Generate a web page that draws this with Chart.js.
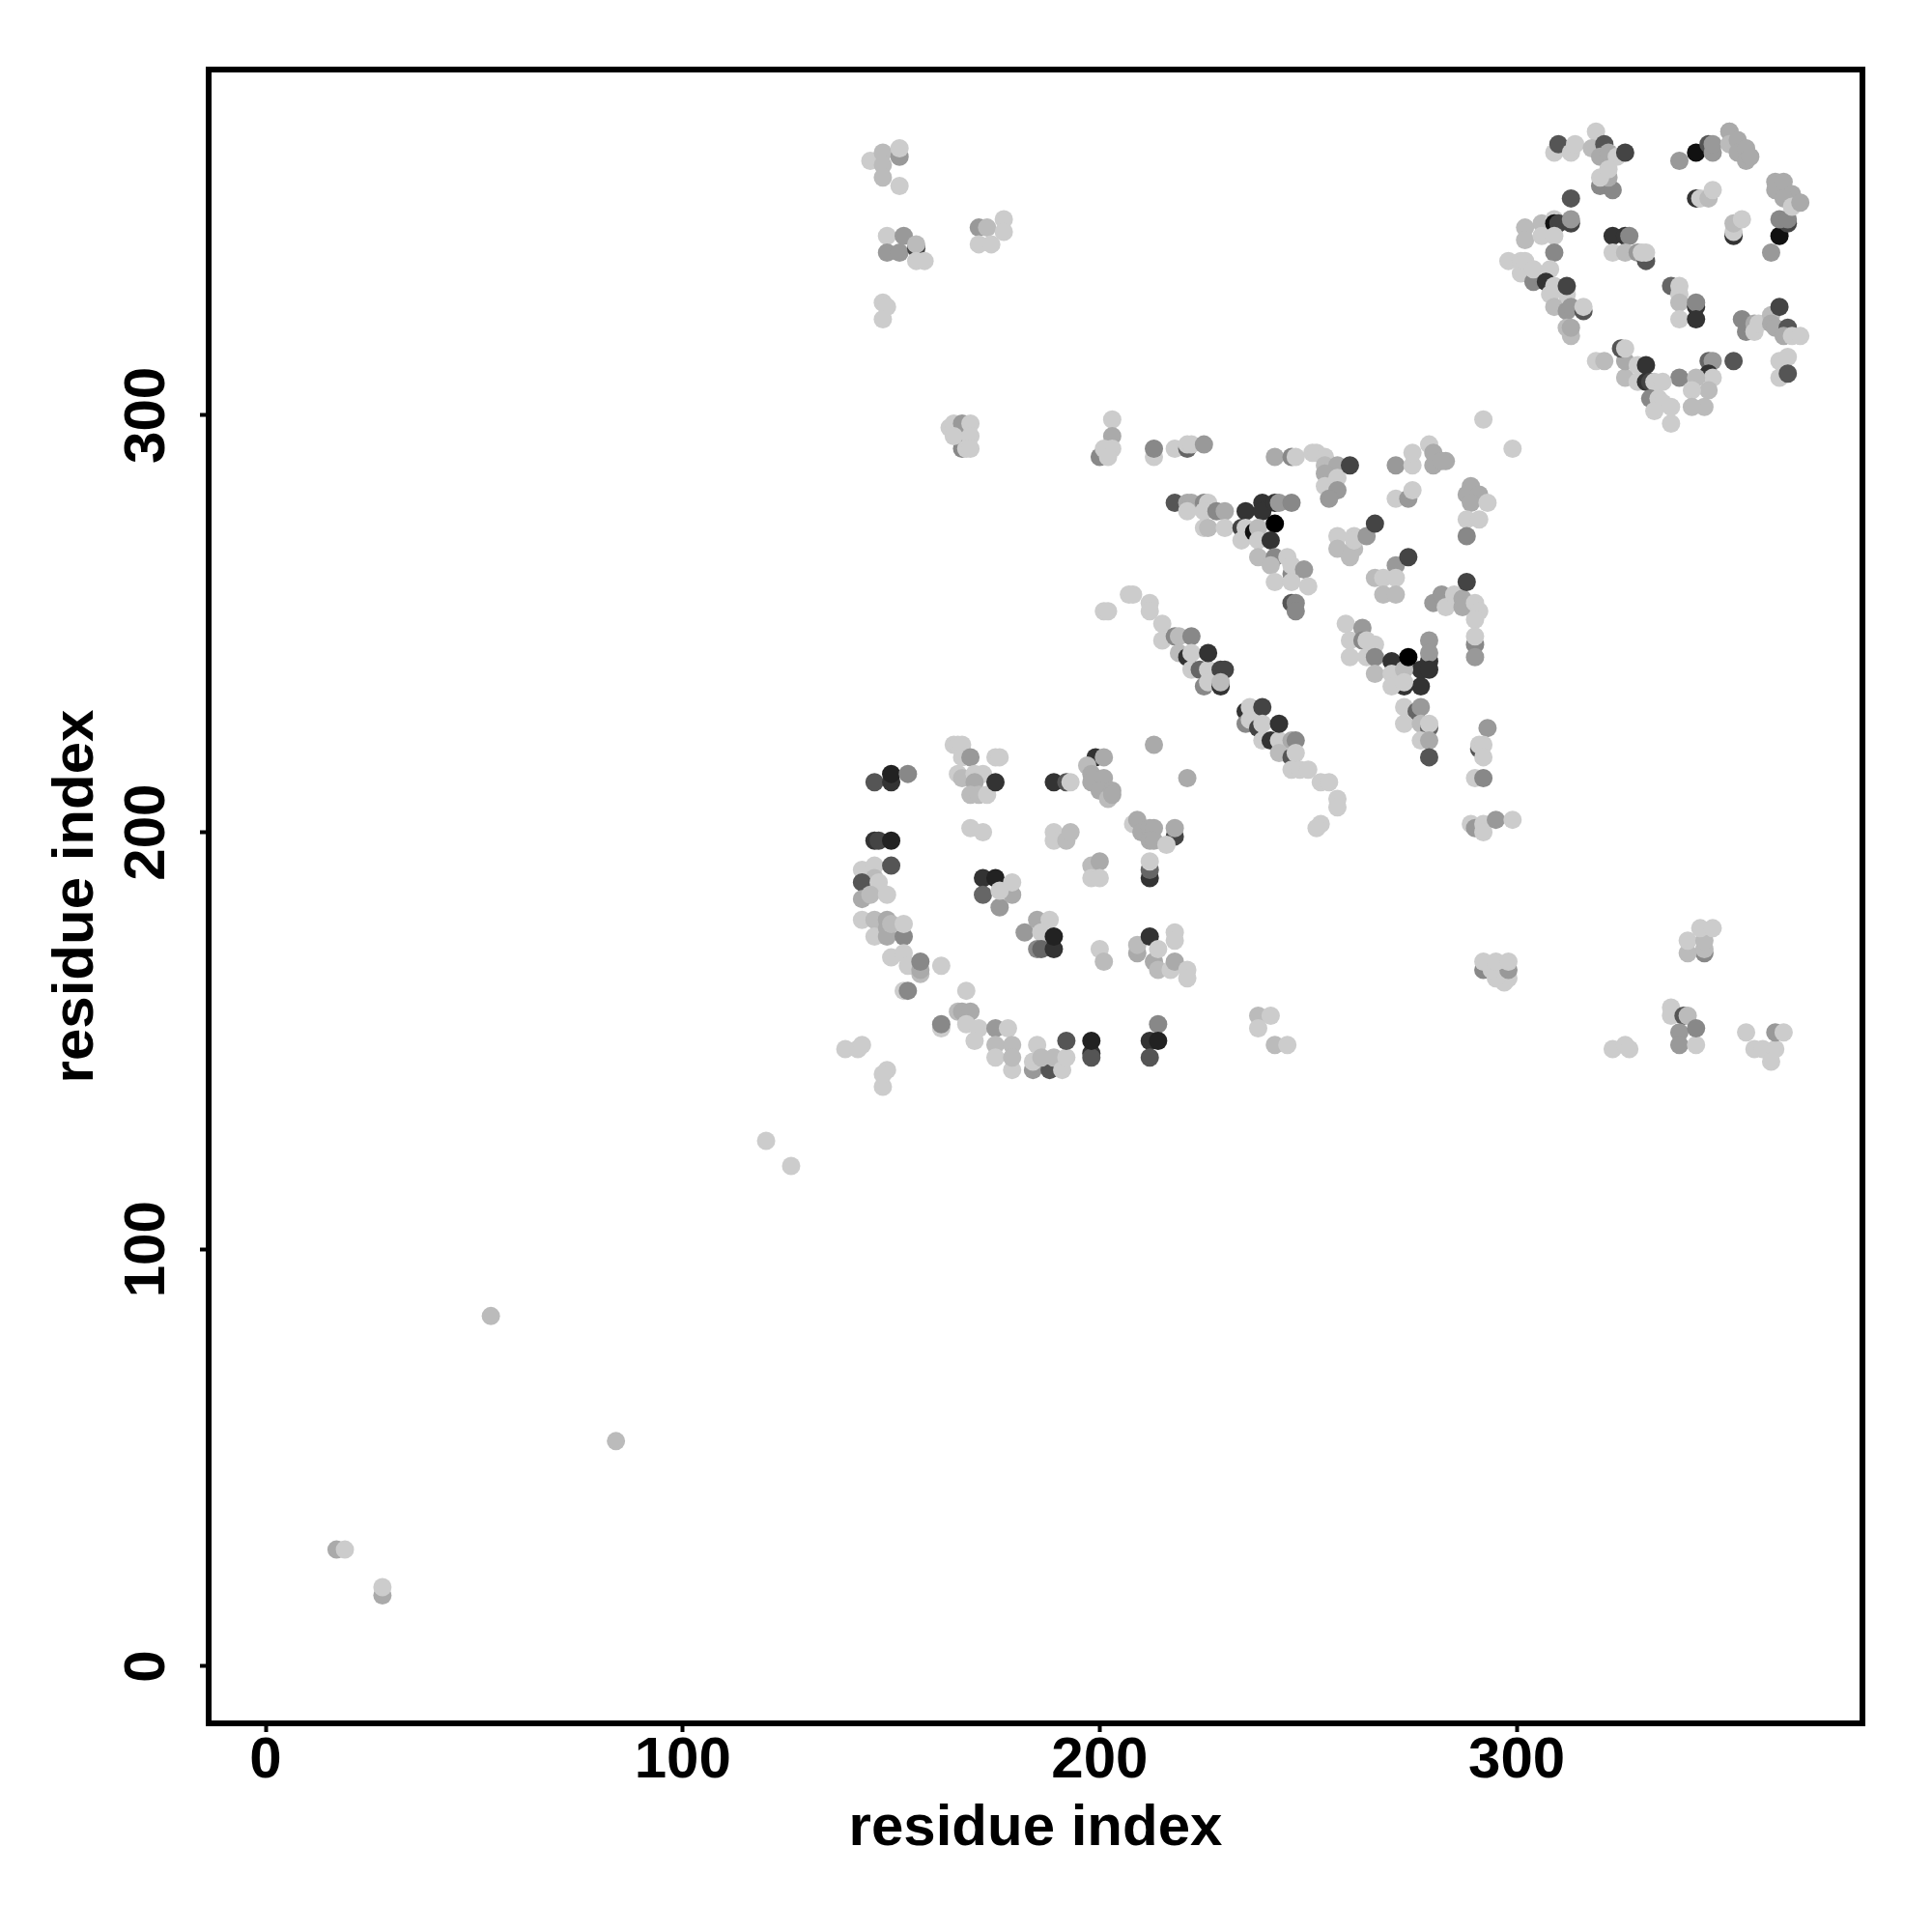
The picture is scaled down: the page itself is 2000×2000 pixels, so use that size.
<!DOCTYPE html>
<html>
<head>
<meta charset="utf-8">
<title>Residue contact map</title>
<style>
    html, body { margin: 0; padding: 0; background: #ffffff; }
    canvas { display: block; }
</style>
<script src="https://cdn.jsdelivr.net/npm/chart.js@4"></script>
</head>
<body>
<canvas id="contactChart" width="2000" height="2000"></canvas>
<script>
// Residue pairs, one line per cluster, same order in all three lists
const residueX = [
    17,19,28,28,54,84,120,126,
    309,310,313,314,319,318,321,320,322,324,326,320,323,322,320,322,313,
    302,302,306,306,309,309,310,313,313,309,309,
    298,301,301,302,304,304,308,307,309,308,312,312,309,312,313,316,316,313,312,313,
    323,326,327,323,326,329,331,330,331,
    337,339,339,339,339,343,343,343,
    339,343,346,347,347,351,351,351,353,353,355,355,356,
    343,344,346,347,352,352,352,354,
    361,363,365,363,365,362,362,364,366,364,366,368,
    354,355,357,357,358,361,361,362,363,365,364,366,368,363,365,363,365,
    352,346,347,346,347,346,339,343,342,345,342,
    326,326,329,329,331,325,326,319,321,
    331,332,333,335,332,334,335,333,337,337,
    203,203,200,201,203,202,213,213,218,221,221,222,225,
    242,246,247,251,252,254,254,257,254,257,254,257,255,260,
    271,275,275,279,280,280,283,282,271,274,275,
    289,288,291,289,293,288,291,288,
    292,299,
    218,221,222,221,225,226,225,228,230,225,226,230,234,235,239,239,242,243,246,
    234,235,237,238,238,242,241,238,242,241,245,246,246,249,242,246,250,246,247,247,
    257,261,257,261,260,261,264,266,
    271,274,266,268,271,268,271,
    280,282,283,285,287,287,288,290,291,290,290,290,290,
    259,263,260,263,264,266,260,264,266,266,270,279,279,279,277,279,277,273,272,270,273,270,273,274,
    273,276,277,273,277,279,279,277,279,279,
    201,202,207,208,212,212,215,215,218,219,222,219,221,222,222,224,226,226,229,230,225,226,229,229,
    235,236,235,236,239,238,239,239,241,243,243,246,247,243,246,247,246,248,250,253,255,257,257,
    213,221,293,291,291,292,292,290,292,289,290,292,292,295,299,253,252,
    146,150,150,154,
    165,166,167,167,169,166,167,170,172,170,169,171,173,175,176,175,
    189,192,193,
    199,201,197,198,198,201,200,202,203,203,
    169,172,189,189,192,193,
    208,209,210,212,213,212,213,218,216,218,
    198,200,198,200,
    212,212,212,
    146,147,150,143,146,146,150,143,147,143,145,149,
    172,175,172,176,179,179,176,
    143,146,149,146,149,149,153,150,153,
    182,185,188,186,185,186,189,189,
    150,153,154,157,157,157,162,153,154,
    200,201,209,209,213,214,212,214,217,218,218,218,221,221,
    168,166,167,169,162,162,168,171,170,175,178,175,175,179,179,179,185,184,188,184,186,189,191,192,192,
    198,198,198,214,212,214,212,
    139,142,143,148,149,148,
    145,148,148,152,152,148,152,
    149,153,149,152,156,156,156,158,
    171,173,171,174,177,177,
    148,149,148,
    167,164,165,167,169,165,169,168,169,
    238,241,238,242,245,
    292,298,297,295,294,298,292,295,298,
    345,341,345,341,345,344,347,
    337,337,340,341,339,339,343,343,323,326,327,
    355,357,359,362,362,364,361
];
const residueY = [
    28,28,17,19,84,54,126,120,
    363,365,363,365,368,364,365,362,363,362,363,355,354,357,357,359,352,
    345,342,346,343,347,346,346,346,347,343,339,
    337,337,334,337,332,335,335,332,331,329,329,331,326,325,326,325,326,319,321,321,
    343,343,343,339,339,339,337,339,339,
    331,331,329,327,323,326,327,323,
    361,363,365,363,365,368,368,365,366,363,364,361,362,
    352,352,352,354,343,344,346,347,
    339,343,346,347,347,356,354,356,353,352,350,351,
    323,320,322,320,322,324,322,321,326,321,319,319,319,313,314,309,310,
    313,313,313,310,309,306,309,309,306,302,302,
    309,313,308,312,312,316,316,313,313,
    308,308,308,308,304,304,303,301,302,298,
    299,295,290,292,292,290,290,292,292,292,293,293,293,
    290,290,290,291,291,290,288,288,286,285,283,282,280,288,
    288,288,291,293,291,288,289,289,280,280,282,
    283,281,281,279,279,275,275,271,
    299,292,
    279,279,279,277,279,279,277,277,277,273,273,273,273,277,279,277,279,279,279,
    270,273,272,273,270,274,270,266,266,264,266,262,264,263,260,260,259,255,255,253,
    271,271,268,268,266,270,271,274,
    264,266,261,261,261,257,257,
    255,257,254,257,256,254,260,255,253,251,245,247,242,
    250,249,246,246,246,245,242,242,242,238,241,246,241,243,239,239,235,235,237,238,239,235,236,242,
    230,229,230,226,226,225,226,222,222,218,
    253,253,257,257,255,253,250,246,247,247,247,243,242,243,239,239,239,243,239,239,235,236,235,236,
    229,230,226,227,230,225,226,222,222,222,226,222,222,219,218,219,215,215,215,212,212,208,206,
    221,213,225,220,221,221,218,213,213,202,201,202,200,203,203,202,201,
    212,212,214,214,
    221,221,221,218,218,214,213,214,214,212,209,209,209,218,218,212,
    212,212,212,
    218,218,216,214,212,213,210,208,210,209,
    201,200,200,198,198,200,
    202,203,200,201,201,198,198,199,197,201,
    192,193,189,189,
    189,191,193,
    198,198,198,191,192,189,192,188,188,184,185,185,
    189,189,185,182,185,188,186,
    179,179,179,175,177,175,175,178,178,
    176,179,179,176,172,172,172,175,
    170,171,168,166,167,169,168,162,162,
    172,169,171,173,169,167,175,172,167,169,176,174,167,165,
    162,157,157,157,153,154,154,153,150,153,153,149,146,143,149,146,149,143,143,145,146,146,143,146,150,
    147,146,150,154,150,150,146,
    148,148,149,139,143,142,
    361,363,360,362,364,357,355,
    343,343,339,339,340,341,337,337,
    345,345,341,341,347,344,
    327,326,323,
    292,297,298,298,298,295,295,292,292,
    156,156,153,149,149,
    167,165,164,165,167,167,169,169,169,
    171,171,172,174,174,177,177,
    158,156,156,156,152,149,149,153,148,149,148,
    152,148,148,148,152,152,145
];
const shade = [
    170,204,170,204,187,187,204,204,
    204,85,204,204,204,187,85,170,170,204,68,136,136,170,204,204,85,
    187,187,187,204,204,17,68,68,153,204,136,
    204,204,204,204,136,204,204,51,204,204,204,68,187,153,153,85,204,187,187,170,
    51,51,136,204,187,153,85,204,204,
    102,204,204,187,204,51,136,51,
    153,17,85,153,153,187,170,187,170,170,170,170,170,
    51,204,187,204,51,204,187,204,
    153,17,68,136,136,170,170,170,170,170,204,170,
    136,136,170,204,204,187,170,170,68,85,170,204,204,204,204,204,85,
    85,102,153,51,204,187,136,187,204,187,187,
    187,170,204,204,51,85,204,204,187,
    51,68,204,204,136,204,204,204,204,204,
    204,170,136,204,204,204,204,136,204,102,204,204,153,
    170,136,204,204,204,204,187,170,170,204,204,153,153,68,
    153,204,204,204,170,170,170,170,204,153,204,
    170,170,170,170,204,204,204,136,
    204,204,
    85,170,170,204,136,204,204,136,170,204,187,204,68,51,51,51,51,153,136,
    204,204,17,187,204,0,51,187,136,187,204,136,204,153,204,204,204,85,136,136,
    204,204,187,187,187,204,153,68,
    153,68,187,204,204,187,187,
    153,153,204,204,170,170,68,204,204,204,136,204,153,
    204,153,204,136,204,204,204,204,136,187,51,153,51,153,51,51,51,51,0,204,187,204,204,0,
    204,102,153,204,187,102,204,204,170,85,
    204,204,204,204,204,204,204,204,136,187,136,187,51,204,204,102,204,51,68,68,136,204,51,187,
    51,204,136,204,68,68,204,204,51,204,51,170,136,187,85,204,204,204,204,204,204,204,204,
    170,170,153,85,204,204,204,204,136,204,153,204,204,153,204,204,204,
    85,51,34,136,
    204,204,204,204,153,204,187,204,204,170,187,187,204,204,204,51,
    51,85,204,
    51,170,187,170,170,170,170,187,170,170,
    204,204,204,204,187,187,
    204,170,170,170,170,170,170,68,204,170,
    187,170,204,204,
    51,102,204,
    51,68,34,204,204,187,85,85,204,170,187,204,
    51,34,102,153,170,204,204,
    204,187,170,204,170,170,136,187,204,
    153,170,204,204,136,102,51,34,
    204,204,204,187,170,136,204,204,136,
    204,187,170,187,170,187,51,204,204,170,204,204,204,204,
    204,187,170,170,204,136,204,204,204,153,204,187,204,204,187,187,204,153,85,204,187,187,204,204,85,
    51,85,34,136,51,34,85,
    204,204,204,204,204,204,
    204,187,187,153,204,187,204,
    204,153,153,153,68,187,204,204,
    153,187,204,204,204,204,
    204,204,204,
    136,204,204,153,204,204,204,204,204,
    187,204,204,187,204,
    136,204,204,204,204,153,204,204,204,
    136,187,187,204,187,204,204,
    204,204,85,187,153,153,204,136,204,204,204,
    204,204,204,204,153,204,204
];
const tickValues = [0, 100, 200, 300];
const axisLabel = 'residue index';

const pointData = residueX.map((x, i) => ({ x: x, y: residueY[i] }));
const pointColors = shade.map(g => `rgb(${g},${g},${g})`);
const labelFont = { family: '"Liberation Sans", Arial, sans-serif', size: 60, weight: 'bold' };

// Full box round the plot, the axes only draw their ticks
const frameBox = {
    id: 'frameBox',
    afterDraw(chart) {
        const { ctx, chartArea } = chart;
        ctx.save();
        ctx.strokeStyle = '#000000';
        ctx.lineWidth = 6;
        ctx.lineJoin = 'miter';
        ctx.strokeRect(chartArea.left, chartArea.top, chartArea.right - chartArea.left, chartArea.bottom - chartArea.top);
        ctx.restore();
    }
};

new Chart(document.getElementById('contactChart'), {
    type: 'scatter',
    data: {
        datasets: [{
            data: pointData,
            backgroundColor: pointColors,
            borderWidth: 0,
            pointRadius: 9.5,
            pointHoverRadius: 9.5
        }]
    },
    options: {
        responsive: false,
        animation: false,
        layout: { padding: { top: 72, right: 72, left: 0, bottom: 0 } },
        plugins: { legend: { display: false }, tooltip: { enabled: false } },
        scales: {
            x: {
                type: 'linear',
                min: -13.67,
                max: 382.9,
                afterFit(scale) { scale.height = 216; },
                afterBuildTicks(scale) { scale.ticks = tickValues.map(v => ({ value: v })); },
                border: { display: false },
                grid: { drawOnChartArea: false, tickLength: 9, tickWidth: 4, tickColor: '#000000' },
                ticks: { color: '#000000', font: labelFont, padding: -6, maxRotation: 0, autoSkip: false },
                title: { display: true, text: axisLabel, color: '#000000', font: labelFont, padding: { top: 0, bottom: 71 } }
            },
            y: {
                type: 'linear',
                min: -13.67,
                max: 382.9,
                afterFit(scale) { scale.width = 216; },
                afterBuildTicks(scale) { scale.ticks = tickValues.map(v => ({ value: v })); },
                border: { display: false },
                grid: { drawOnChartArea: false, tickLength: 9, tickWidth: 4, tickColor: '#000000' },
                ticks: { color: '#000000', font: labelFont, padding: 3, minRotation: 90, maxRotation: 90, crossAlign: 'center', autoSkip: false },
                title: { display: true, text: axisLabel, color: '#000000', font: labelFont, padding: { top: 43, bottom: 0 } }
            }
        }
    },
    plugins: [frameBox]
});
</script>
</body>
</html>
